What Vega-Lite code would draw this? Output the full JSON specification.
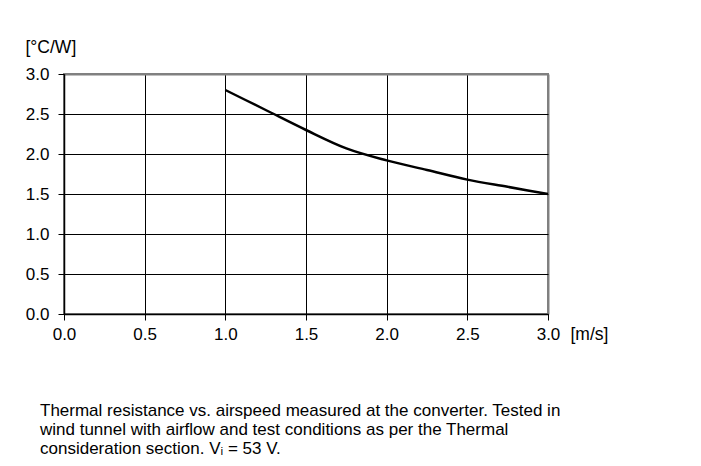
{
  "$schema": "https://vega.github.io/schema/vega-lite/v6.json",
  "autosize": "none",
  "width": 484,
  "height": 240,
  "padding": {"left": 64, "top": 74, "right": 153, "bottom": 152},
  "background": "white",
  "config": {
    "font": "Liberation Sans",
    "view": {"stroke": "#808080", "strokeWidth": 2},
    "axis": {
      "labelFont": "Liberation Sans",
      "labelFontSize": 17,
      "labelColor": "black",
      "labelFlush": false,
      "labelOverlap": false,
      "titleFont": "Liberation Sans",
      "titleFontSize": 17.5,
      "titleFontWeight": "normal",
      "titleColor": "black",
      "domainColor": "black",
      "domainWidth": 1.5,
      "tickColor": "black",
      "tickSize": 6,
      "gridOpacity": 1,
      "gridWidth": 1
    }
  },
  "data": {
    "values": [
      {"speed": 1.0, "rth": 2.8},
      {"speed": 1.25, "rth": 2.55},
      {"speed": 1.5, "rth": 2.3},
      {"speed": 1.75, "rth": 2.07},
      {"speed": 2.0, "rth": 1.92},
      {"speed": 2.25, "rth": 1.8},
      {"speed": 2.5, "rth": 1.68},
      {"speed": 2.75, "rth": 1.59},
      {"speed": 3.0, "rth": 1.5}
    ]
  },
  "title": {
    "text": [
      "Thermal resistance vs. airspeed measured at the converter. Tested in",
      "wind tunnel with airflow and test conditions as per the Thermal",
      "consideration section. Vᵢ = 53 V."
    ],
    "orient": "bottom",
    "anchor": "start",
    "frame": "group",
    "dx": -24,
    "offset": 60,
    "font": "Liberation Sans",
    "fontSize": 17,
    "fontWeight": "normal",
    "color": "black",
    "lineHeight": 19
  },
  "mark": {"type": "line", "color": "black", "strokeWidth": 2.5, "interpolate": "monotone"},
  "encoding": {
    "x": {
      "field": "speed",
      "type": "quantitative",
      "scale": {"domain": [0, 3], "nice": false},
      "axis": {
        "values": [0, 0.5, 1, 1.5, 2, 2.5, 3],
        "format": ".1f",
        "labelPadding": 6,
        "title": "[m/s]",
        "titleAngle": 0,
        "titleAlign": "left",
        "titleBaseline": "alphabetic",
        "titleX": 506,
        "titleY": 25,
        "gridColor": {"condition": {"test": "datum.value == 3", "value": "#808080"}, "value": "black"},
        "gridWidth": {"condition": {"test": "datum.value == 3", "value": 2}, "value": 1}
      }
    },
    "y": {
      "field": "rth",
      "type": "quantitative",
      "scale": {"domain": [0, 3], "nice": false},
      "axis": {
        "values": [0, 0.5, 1, 1.5, 2, 2.5, 3],
        "format": ".1f",
        "labelPadding": 9,
        "title": "[°C/W]",
        "titleAngle": 0,
        "titleAlign": "left",
        "titleBaseline": "alphabetic",
        "titleX": -39,
        "titleY": -22,
        "gridColor": {"condition": {"test": "datum.value == 3", "value": "#808080"}, "value": "black"},
        "gridWidth": {"condition": {"test": "datum.value == 3", "value": 2}, "value": 1}
      }
    }
  }
}
